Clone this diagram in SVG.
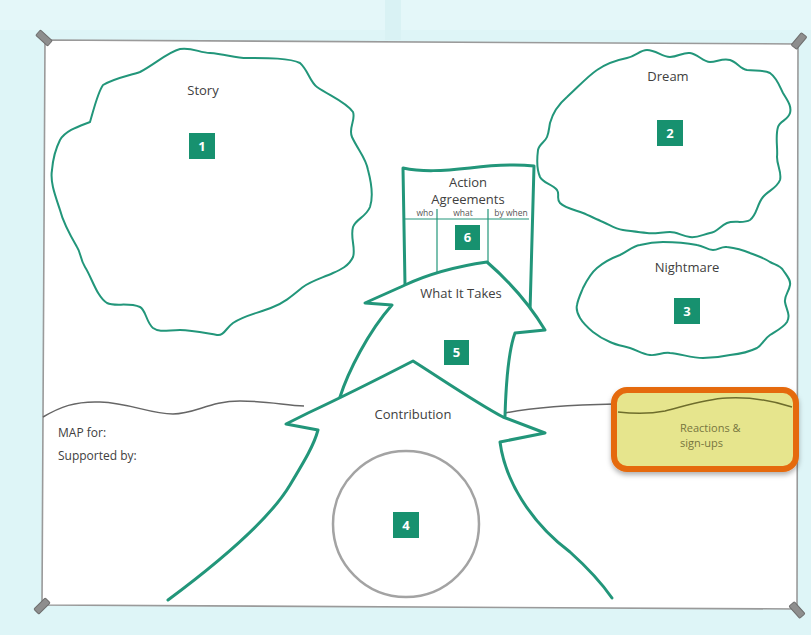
<svg xmlns="http://www.w3.org/2000/svg" width="811" height="635" viewBox="0 0 811 635">
  <defs>
    <style>
      .blob { fill: #ffffff; stroke: #22967a; stroke-width: 2; stroke-linejoin: round; }
      .shape { fill: #ffffff; stroke: #22967a; stroke-width: 3; stroke-linejoin: round; stroke-linecap: round; }
      .thin { fill: none; stroke: #22967a; stroke-width: 1.2; }
      .badge { fill: #17916f; }
      .num { font-family: "Open Sans", "Liberation Sans", sans-serif; font-size: 13px; font-weight: bold; fill: #ffffff; text-anchor: middle; }
      .lbl { font-family: "Open Sans", "Liberation Sans", sans-serif; font-size: 13px; fill: #404040; text-anchor: middle; }
      .small { font-family: "Open Sans", "Liberation Sans", sans-serif; font-size: 8.5px; fill: #555555; text-anchor: middle; }
      .note { font-family: "Open Sans", "Liberation Sans", sans-serif; font-size: 12px; fill: #404040; }
      .callout { font-family: "Open Sans", "Liberation Sans", sans-serif; font-size: 11px; fill: #77763f; }
      .ground { fill: none; stroke: #666666; stroke-width: 1.5; }
      .pin { fill: #8e8e8e; stroke: #6e6e6e; stroke-width: 1; }
    </style>
    <filter id="shadow" x="-10%" y="-10%" width="120%" height="130%">
      <feDropShadow dx="0" dy="3" stdDeviation="2.5" flood-color="#000000" flood-opacity="0.3"/>
    </filter>
  </defs>

  <!-- backdrop around the sheet -->
  <rect x="0" y="0" width="811" height="635" fill="#def5f7"/>
  <rect x="0" y="0" width="811" height="30" fill="#e4f7f9"/>
  <rect x="385" y="0" width="16" height="40" fill="#d9f2f4"/>

  <!-- paper sheet -->
  <polygon points="45,40 798,44 797,609 42,605" fill="#ffffff" stroke="#9a9a9a" stroke-width="1.6"/>

  <!-- corner pins -->
  <rect class="pin" x="-8" y="-3.5" width="16" height="7" rx="1" transform="translate(44,38) rotate(42)"/>
  <rect class="pin" x="-8" y="-3.5" width="16" height="7" rx="1" transform="translate(799,41) rotate(-50)"/>
  <rect class="pin" x="-8" y="-3.5" width="16" height="7" rx="1" transform="translate(42,606) rotate(-45)"/>
  <rect class="pin" x="-8" y="-3.5" width="16" height="7" rx="1" transform="translate(797,610) rotate(48)"/>

  <!-- connectors: horizon line -->
  <g id="connectors">
    <path class="ground" d="M43,417 C 60,407 75,401 100,402 C 130,403 150,414 173,414 C 195,414 210,401 240,401 C 265,401 285,405 304,406"/>
    <path class="ground" d="M505,413 C 530,408 565,405 615,404"/>
  </g>

  <!-- Story -->
  <g id="story">
    <path class="blob" d="M90,122 C 95,105 98,92 103,85 C 115,78 128,76 140,72 C 155,64 168,52 180,49 C 192,47 200,53 210,53 C 225,54 235,58 247,58 C 268,58 290,58 300,63 C 308,70 310,82 317,87 C 330,96 346,102 353,112 C 356,120 348,128 352,137 C 358,150 366,158 368,170 C 372,185 373,198 370,207 C 366,217 356,219 353,227 C 350,238 356,248 353,257 C 349,266 340,270 333,273 C 322,278 311,281 303,287 C 292,296 284,303 273,307 C 259,313 245,315 233,323 C 226,328 224,336 217,335 C 205,333 192,330 180,330 C 168,330 160,333 153,328 C 146,322 146,310 140,307 C 128,302 115,307 107,303 C 97,297 92,278 85,267 C 80,259 81,253 77,247 C 70,235 63,222 60,210 C 55,195 50,182 52,170 C 53,158 56,148 60,140 C 66,130 80,126 90,122 Z"/>
    <text class="lbl" x="203" y="95">Story</text>
    <rect class="badge" x="189" y="133" width="26" height="26"/>
    <text class="num" x="202" y="151">1</text>
  </g>

  <!-- Dream -->
  <g id="dream">
    <path class="blob" d="M550,123 C 553,112 560,103 567,97 C 577,88 588,76 597,70 C 607,63 617,60 627,58 C 636,56 640,50 647,50 C 656,50 662,57 670,57 C 678,57 683,52 690,53 C 698,54 703,62 710,62 C 717,62 722,58 730,60 C 737,62 740,69 747,70 C 756,71 764,70 770,73 C 777,78 780,87 783,93 C 787,100 792,106 790,113 C 788,120 780,121 778,127 C 775,137 778,148 777,157 C 777,166 782,172 780,180 C 777,188 768,191 763,197 C 757,204 757,215 750,220 C 743,224 734,220 727,223 C 720,226 717,232 710,233 C 702,235 697,238 690,237 C 682,236 677,232 670,232 C 662,232 655,234 647,233 C 638,232 631,231 623,230 C 615,229 610,225 603,222 C 596,219 590,216 583,213 C 575,210 565,208 560,203 C 556,199 560,194 557,190 C 552,184 543,183 540,177 C 536,168 537,158 538,150 C 539,144 545,142 547,137 C 549,132 549,128 550,123 Z"/>
    <text class="lbl" x="668" y="81">Dream</text>
    <rect class="badge" x="657" y="120" width="26" height="26"/>
    <text class="num" x="670" y="138">2</text>
  </g>

  <!-- Nightmare -->
  <g id="nightmare">
    <path class="blob" d="M583,288 C 587,280 591,273 597,268 C 604,262 612,258 620,255 C 628,251 633,246 640,245 C 648,243 655,242 663,242 C 675,242 687,243 697,245 C 704,246 707,250 713,250 C 719,250 721,246 727,247 C 735,248 743,250 750,253 C 758,256 764,258 770,262 C 776,265 781,266 783,270 C 787,276 791,280 790,285 C 789,292 784,296 785,302 C 786,309 791,315 787,322 C 783,328 776,331 770,335 C 764,339 762,345 757,348 C 749,352 739,354 730,355 C 721,357 712,358 703,358 C 692,358 681,354 670,353 C 662,352 657,356 650,355 C 642,354 637,350 630,348 C 623,346 616,345 610,342 C 603,339 598,336 593,332 C 587,327 583,323 580,318 C 577,313 576,309 577,305 C 578,299 581,293 583,288 Z"/>
    <text class="lbl" x="687" y="272">Nightmare</text>
    <rect class="badge" x="674" y="298" width="26" height="26"/>
    <text class="num" x="687" y="316">3</text>
  </g>

  <!-- Action Agreements -->
  <g id="action-agreements">
    <path class="shape" d="M405,285 L 403,168 C 422,172 442,171 470,168 C 495,165 515,164 534,166 C 533,210 531,260 530,312"/>
    <text class="lbl" x="468" y="187">Action</text>
    <text class="lbl" x="468" y="204">Agreements</text>
    <line class="thin" x1="405" y1="219" x2="529" y2="219"/>
    <line class="thin" x1="437" y1="209" x2="437" y2="272"/>
    <line class="thin" x1="488" y1="209" x2="488" y2="263"/>
    <text class="small" x="425" y="216">who</text>
    <text class="small" x="463" y="216">what</text>
    <text class="small" x="511" y="216">by when</text>
    <rect class="badge" x="455" y="225" width="25" height="25"/>
    <text class="num" x="467.5" y="242">6</text>
  </g>

  <!-- What It Takes -->
  <g id="what-it-takes">
    <path class="shape" d="M340,397 C 348,372 368,332 392,305 L 365,303 C 378,297 392,291 405,285 C 420,278 445,268 487,262 C 510,282 530,305 545,330 L 515,333 C 508,352 506,382 505,416"/>
    <text class="lbl" x="461" y="298">What It Takes</text>
    <rect class="badge" x="444" y="340" width="25" height="25"/>
    <text class="num" x="456.5" y="357">5</text>
  </g>

  <!-- Contribution -->
  <g id="contribution">
    <path class="shape" d="M168,600 C 215,565 268,522 290,485 C 305,460 314,445 318,430 L 286,424 L 308,413 C 340,398 380,378 413,361 C 440,378 478,404 503,417 L 545,433 L 500,442 C 505,480 530,522 570,552 C 590,570 603,585 612,598"/>
    <text class="lbl" x="413" y="419">Contribution</text>
  </g>

  <!-- Gift circle -->
  <g id="gifts">
    <circle cx="406" cy="524" r="73" fill="none" stroke="#a3a3a3" stroke-width="2.5"/>
    <rect class="badge" x="393" y="512" width="26" height="26"/>
    <text class="num" x="406" y="530">4</text>
  </g>

  <!-- map owner notes -->
  <g id="map-notes">
    <text class="note" x="58" y="437">MAP for:</text>
    <text class="note" x="58" y="460">Supported by:</text>
  </g>

  <!-- Reactions callout -->
  <g id="reactions">
    <rect x="614" y="390" width="182" height="79" rx="13" fill="#e6e58d" stroke="#e56a0f" stroke-width="6" filter="url(#shadow)"/>
    <path d="M618,412 C 635,414 650,414 665,411 C 685,406 705,399 727,398 C 745,397 770,400 792,407" fill="none" stroke="#6e6d2c" stroke-width="1.5"/>
    <text class="callout" x="680" y="432">Reactions &amp;</text>
    <text class="callout" x="680" y="447">sign-ups</text>
  </g>
</svg>
